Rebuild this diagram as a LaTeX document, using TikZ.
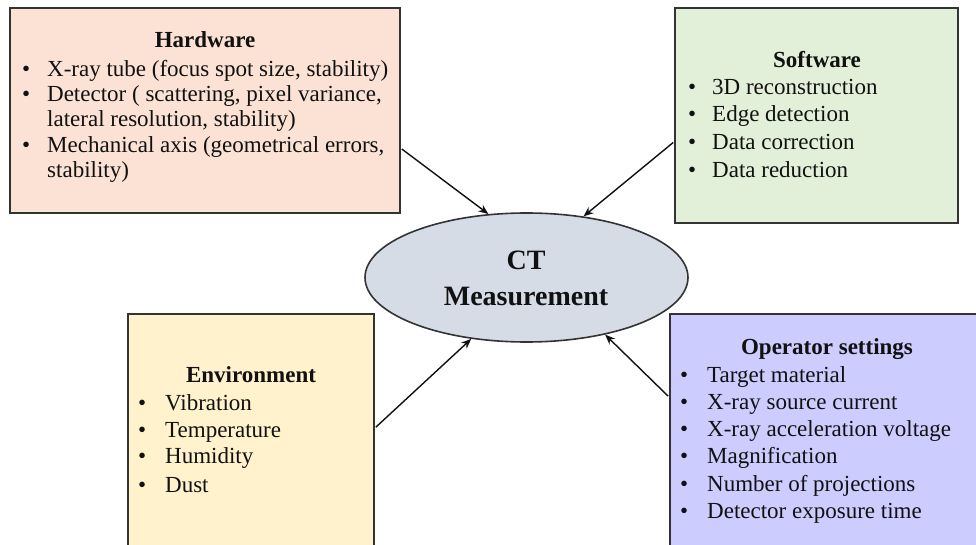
\documentclass[tikz,border=0pt]{standalone}
\usepackage{fontspec}
\setmainfont{Liberation Serif}
\usetikzlibrary{shapes.geometric,arrows.meta,calc}
\definecolor{hwfill}{HTML}{FBE2D5}
\definecolor{swfill}{HTML}{E2EFD9}
\definecolor{envfill}{HTML}{FFF2CC}
\definecolor{opfill}{HTML}{CCCCFF}
\definecolor{ctfill}{HTML}{D6DCE5}
\definecolor{edge}{HTML}{333333}
\definecolor{txt}{HTML}{111111}
\newcommand{\myitem}[2]{\makebox[#1][l]{\textbullet}#2}
\begin{document}
\begin{tikzpicture}[x=1pt,y=1pt,
  font=\fontsize{23}{27}\selectfont, text=txt,
  box/.style={draw=edge, line width=1.6pt, rectangle, inner sep=0pt},
  ttl/.style={font=\fontsize{23}{27}\selectfont\bfseries, anchor=base, inner sep=0pt},
  itm/.style={anchor=base west, inner sep=0pt},
  ctlbl/.style={font=\fontsize{28}{32}\selectfont\bfseries, anchor=base, inner sep=0pt},
  conn/.style={draw=txt, line width=1.4pt, -{Stealth[length=10pt,width=8pt]}}]
\useasboundingbox (0,0) rectangle (976,544);
% boxes
\node[box, fill=hwfill, minimum width=390, minimum height=205] (hw) at (205,433.5) {};
\node[box, fill=swfill, minimum width=283, minimum height=215] (sw) at (816.5,428.5) {};
\node[box, fill=envfill, minimum width=246, minimum height=234] (env) at (251,113) {};
\node[box, fill=opfill, minimum width=312, minimum height=234] (op) at (826,113) {};
\node[ellipse, draw=edge, line width=1.6pt, fill=ctfill, minimum width=323, minimum height=129, inner sep=0pt] (ct) at (526.5,266.5) {};
% center labels
\node[ctlbl] (ct1) at (526,274) {CT};
\node[ctlbl] (ct2) at (526,239) {Measurement};
% hardware
\node[ttl] (hwt) at (205,496) {Hardware};
\node[itm] (hw1) at (22,467) {\myitem{25pt}{X-ray tube (focus spot size, stability)}};
\node[itm] (hw2) at (22,442) {\myitem{25pt}{Detector ( scattering, pixel variance,}};
\node[itm] (hw3) at (47,417) {lateral resolution, stability)};
\node[itm] (hw4) at (22,391) {\myitem{25pt}{Mechanical axis (geometrical errors,}};
\node[itm] (hw5) at (47,366) {stability)};
% software
\node[ttl] (swt) at (817,476) {Software};
\node[itm] (sw1) at (688,449) {\myitem{24pt}{3D reconstruction}};
\node[itm] (sw2) at (688,422) {\myitem{24pt}{Edge detection}};
\node[itm] (sw3) at (688,394) {\myitem{24pt}{Data correction}};
\node[itm] (sw4) at (688,366) {\myitem{24pt}{Data reduction}};
% environment
\node[ttl] (envt) at (251,162) {Environment};
\node[itm] (env1) at (138,134) {\myitem{27pt}{Vibration}};
\node[itm] (env2) at (138,107) {\myitem{27pt}{Temperature}};
\node[itm] (env3) at (138,81) {\myitem{27pt}{Humidity}};
\node[itm] (env4) at (138,52) {\myitem{27pt}{Dust}};
% operator settings
\node[ttl] (opt) at (827,190) {Operator settings};
\node[itm] (op1) at (680,162) {\myitem{27pt}{Target material}};
\node[itm] (op2) at (680,135) {\myitem{27pt}{X-ray source current}};
\node[itm] (op3) at (680,108) {\myitem{27pt}{X-ray acceleration voltage}};
\node[itm] (op4) at (680,81) {\myitem{27pt}{Magnification}};
\node[itm] (op5) at (680,53) {\myitem{27pt}{Number of projections}};
\node[itm] (op6) at (680,26) {\myitem{27pt}{Detector exposure time}};
% connectors
\draw[conn] ($(hw.east)+(1,-38.5)$) -- (ct.121);
\draw[conn] ($(sw.west)+(-1,-27)$) -- (ct.47);
\draw[conn] ($(env.north east)+(1,-114)$) -- (ct.228);
\draw[conn] ($(op.north west)+(-1,-83)$) -- (ct.-36);
\end{tikzpicture}
\end{document}
